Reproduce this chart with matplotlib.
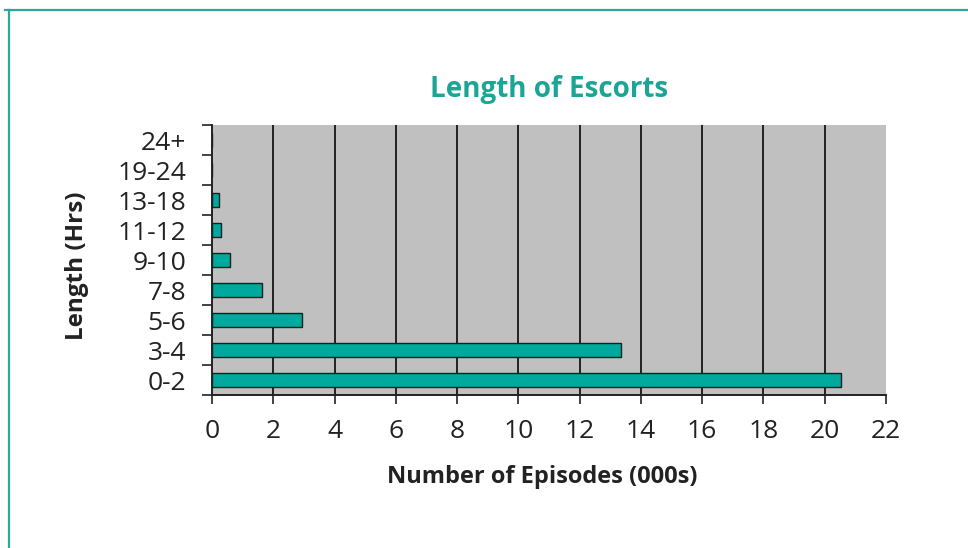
import matplotlib
matplotlib.use("Agg")
import matplotlib.pyplot as plt
from matplotlib.lines import Line2D
import numpy as np

categories = ["0-2", "3-4", "5-6", "7-8", "9-10", "11-12", "13-18", "19-24", "24+"]
episodes = [20.52, 13.36, 2.95, 1.62, 0.58, 0.28, 0.22, 0.0, 0.0]
xticks = list(range(0, 23, 2))

W, H = 968, 548
fig = plt.figure(figsize=(W / 100, H / 100), dpi=100)
fig.patch.set_facecolor("white")
plt.rcParams["font.family"] = ["Open Sans", "DejaVu Sans"]

teal = "#00A99D"
ax = fig.add_axes([212 / W, 1 - 395 / H, (886 - 212) / W, (395 - 125.3) / H])
ax.set_facecolor("#C0C0C0")

y = np.arange(len(categories))
ax.barh(y, episodes, height=0.46, color=teal, edgecolor="#1e1e1e", linewidth=1.0, zorder=3)

ax.set_xlim(0, 22)
ax.set_ylim(-0.5, len(categories) - 0.5)
ax.set_xticks(xticks)
ax.set_xticklabels([str(v) for v in xticks], fontsize=19, color="#222222")
for v in xticks[1:-1]:
    ax.axvline(v, color="#222222", linewidth=1.4, zorder=2)

ax.set_yticks(y)
ax.set_yticklabels(categories, fontsize=19, color="#222222")
ax.set_yticks(np.arange(-0.5, len(categories), 1.0), minor=True)
ax.tick_params(axis="y", which="major", length=0, pad=18.5)
ax.tick_params(axis="y", which="minor", length=7.5, width=1.2, color="#222222", direction="out")
ax.tick_params(axis="x", which="major", length=6.5, width=1.2, color="#222222", direction="out", pad=11)

for s in ["top", "right"]:
    ax.spines[s].set_visible(False)
for s in ["left", "bottom"]:
    ax.spines[s].set_color("#222222")
    ax.spines[s].set_linewidth(1.4)

fig.text(549 / W, 1 - 90 / H, "Length of Escorts", ha="center", va="center",
         fontsize=20, fontweight="bold", color="#1AA596")
fig.text(542 / W, 1 - 477 / H, "Number of Episodes (000s)", ha="center", va="center",
         fontsize=17, fontweight="bold", color="#222222")
fig.text(77 / W, 1 - 266 / H, "Length (Hrs)", ha="center", va="center", rotation=90,
         fontsize=17.5, fontweight="bold", color="#222222")

# frame lines
fig.add_artist(Line2D([5 / W, 1.0], [1 - 10 / H, 1 - 10 / H], color="#2BA899", linewidth=1.6,
                      transform=fig.transFigure))
fig.add_artist(Line2D([9 / W, 9 / W], [1 - 10 / H, 0.0], color="#2BA899", linewidth=1.6,
                      transform=fig.transFigure))

fig.savefig("out.png", dpi=100)
